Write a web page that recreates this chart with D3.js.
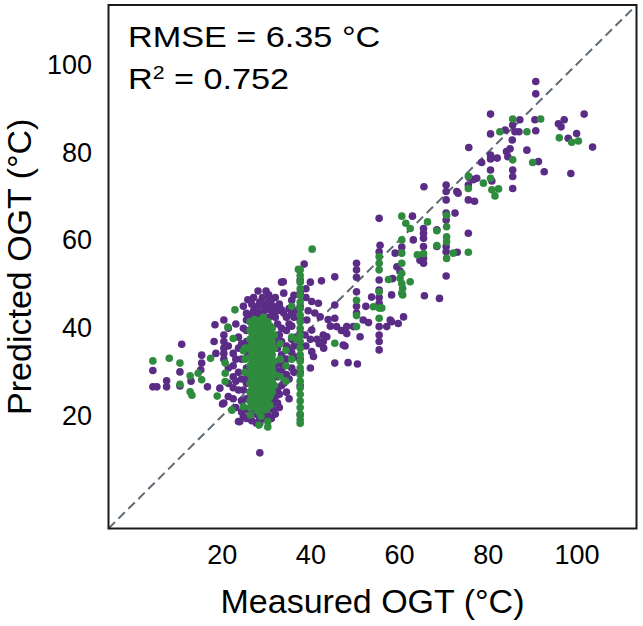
<!DOCTYPE html>
<html>
<head>
<meta charset="utf-8">
<script src="https://cdn.jsdelivr.net/npm/d3@7"></script>
<style>
  html, body { margin: 0; padding: 0; background: #fff; }
  svg { display: block; }
  text { font-family: "Liberation Sans", Arial, Helvetica, sans-serif; fill: #000; }
</style>
</head>
<body>
<svg id="chart" width="643" height="626"></svg>
<script>
// ---------------- data (measured OGT, predicted OGT) ----------------
const purplePoints = [
  [4.5,30.4],[4.5,26.7],[5.4,26.7],[7.6,28.1],[7.6,26.7],[10.6,30.1],[10.6,26.9],[11.0,36.4],
  [13.1,28.0],[15.5,33.9],[15.5,32.1],[15.3,30.6],[16.8,26.7],[18.3,37.0],[18.7,34.3],[18.5,40.8],
  [19.6,26.4],[20.5,41.9],[20.5,38.5],[20.5,37.0],[20.5,35.5],[20.5,34.3],[20.5,33.0],[20.5,23.0],
  [20.2,22.8],
  [21.5,40.0],[21.5,36.0],[21.5,31.0],[21.5,27.5],[21.5,24.5],
  [22.6,34.3],[22.6,31.5],[22.6,29.0],[22.6,26.5],[22.6,24.0],
  [23.2,41.0],[23.2,33.0],[23.2,28.0],[23.2,22.0],
  [23.8,38.0],[23.8,35.5],[23.8,30.0],[23.8,26.0],[23.8,18.8],[24.1,18.8],
  [24.5,36.5],[24.5,33.0],[24.5,28.5],[24.5,23.5],[24.5,21.0],
  [24.9,45.0],[24.9,40.0],[24.9,26.0],[24.9,20.0],
  [25.6,43.4],[25.6,41.9],[25.6,39.5],[25.6,37.0],[25.6,31.0],[25.6,27.5],[25.6,24.0],[25.6,19.5],
  [25.9,46.5],[25.9,34.0],[25.9,29.0],[25.9,21.5],
  [26.8,45.5],[26.8,43.0],[26.8,40.0],[26.8,21.5],[26.8,19.0],
  [27.2,47.0],[27.2,44.0],
  [27.8,44.5],[27.8,42.5],[27.8,20.5],[27.8,18.5],
  [28.2,48.5],[28.2,45.0],
  [28.6,46.0],[28.6,43.5],[28.6,19.5],[28.6,18.4],[28.6,11.7],
  [29.2,47.0],[29.2,45.5],[29.2,20.5],
  [29.6,44.0],[29.6,42.0],[29.6,21.0],[29.6,19.5],
  [30.0,48.5],[30.0,45.0],[30.0,21.0],
  [30.6,47.6],[30.6,46.1],[30.6,44.5],[30.6,42.5],[30.6,20.0],
  [31.2,46.5],[31.2,44.0],[31.2,22.5],[31.2,19.5],
  [31.6,45.0],[31.6,43.0],[31.6,23.5],[31.6,21.5],
  [32.1,47.0],[32.1,42.5],[32.1,37.0],[32.1,30.5],[32.1,24.5],[32.1,20.5],
  [32.6,44.0],[32.6,41.0],[32.6,38.5],[32.6,35.5],[32.6,32.0],[32.6,29.0],[32.6,26.0],[32.6,23.0],
  [33.0,45.5],[33.0,38.5],[33.0,32.5],[33.0,25.0],[33.0,22.0],
  [33.5,50.5],[33.5,44.2],[33.5,40.0],[33.5,37.0],[33.5,34.0],[33.5,30.5],[33.5,27.0],
  [34.0,48.0],[34.0,43.5],[34.0,31.5],[34.0,27.5],
  [34.6,42.5],[34.6,39.5],[34.6,36.0],[34.6,33.0],[34.6,29.5],[34.6,25.5],
  [35.2,44.5],[35.2,41.0],[35.2,35.0],[35.2,28.5],[35.2,24.0],
  [35.8,46.4],[35.8,43.4],[35.8,40.5],[35.8,37.5],[35.8,34.5],[35.8,31.0],
  [36.3,47.5],[36.3,42.5],[36.3,36.0],[36.3,30.0],
  [36.8,44.0],[36.8,38.0],[36.8,33.5],
  [37.7,51.0],[37.7,48.0],[37.7,45.0],[37.7,42.0],[37.7,39.0],[37.7,36.0],[37.7,33.0],[37.7,30.0],
  [37.7,27.0],[37.7,20.3],
  [39.0,49.0],[39.0,47.0],[40.0,50.5],[40.0,37.5],[40.0,31.0],
  [38.6,54.6],[40.3,46.1],[41.8,45.7],[39.2,41.9],[42.2,42.6],[40.3,39.6],[43.7,38.1],[40.7,33.6],
  [42.0,36.5],[44.5,40.5],[40.3,34.7],[41.5,37.5],[39.5,44.0],[43.0,35.5],[38.8,38.5],[39.0,36.0],
  [41.0,43.5],[44.0,42.0],[42.9,38.5],[42.9,37.0],[42.5,50.8],[45.5,51.7],[45.5,45.3],[45.5,42.3],
  [45.9,40.4],[47.4,36.2],[47.8,36.0],[48.2,40.4],[47.0,39.5],[48.2,38.8],[49.7,40.4],[45.5,32.1],
  [48.5,32.2],[50.6,31.9],[33.9,50.6],
  [50.4,54.8],[50.4,53.3],[50.4,51.6],[50.4,48.3],[50.4,45.0],[50.4,43.5],[52.5,45.0],[51.9,41.9],
  [51.2,38.1],[53.8,47.1],[53.1,41.3],[55.5,65.0],[55.7,58.9],[55.5,57.4],[55.5,51.0],[55.5,48.7],
  [55.5,47.0],[55.5,45.7],[55.5,40.4],[55.5,38.5],[55.5,37.0],[55.5,35.1],[57.2,40.4],[58.3,41.5],
  [59.8,41.1],[61.0,42.6],[58.3,47.6],[58.5,51.3],[59.5,54.0],[59.1,57.1],[60.5,57.2],[60.2,53.0],
  [60.6,58.5],[63.0,65.5],[63.2,60.1],[64.7,55.5],[65.5,62.7],[65.5,61.6],[65.5,60.5],[65.5,58.6],
  [65.5,55.9],[65.5,54.8],[65.7,47.4],[68.5,62.4],[68.5,58.6],[69.1,46.8],[65.6,72.2],[70.6,72.6],
  [70.6,71.1],[70.6,69.2],[70.6,66.2],[70.6,64.6],[70.6,58.6],[70.6,57.4],[70.6,51.9],[72.6,66.2],
  [73.0,71.1],[73.1,57.3],[75.6,72.6],[75.6,69.2],[75.6,61.6],[75.8,74.3],[76.7,73.8],[73.3,70.7],
  [58.0,41.9],[77.0,68.9],
  [90.8,96.1],[90.8,93.3],[80.6,88.7],[87.2,87.4],[90.6,87.4],[83.9,85.1],[85.6,86.2],[86.1,84.7],
  [87.0,84.7],[90.8,84.9],[95.9,86.5],[96.5,85.8],[97.2,87.4],[101.7,88.7],[100.0,84.3],[98.1,83.2],
  [103.6,81.2],[80.6,84.2],[85.5,82.8],[75.7,81.1],[80.6,79.4],[80.6,78.5],[82.1,78.7],[84.2,80.2],
  [85.0,80.8],[84.5,79.0],[88.8,80.5],[78.6,77.7],[91.4,77.9],[92.7,75.6],[98.7,75.2],[80.6,76.0],
  [85.6,76.0],[85.6,74.5],[85.6,71.8],[77.5,74.1],[80.9,73.5]
];

const greenPoints = [
  [4.5,32.6],[8.2,33.2],[10.6,32.1],[10.6,27.3],[12.9,29.2],[12.9,25.6],[13.3,24.8],[14.7,29.8],
  [15.5,28.3],[17.5,33.2],[19.0,24.6],[20.8,32.1],[20.8,29.8],[20.8,27.9],[21.4,40.3],[22.6,37.7],
  [22.3,21.4],[23.0,44.2],[24.9,22.2],[24.9,34.9],[26.5,20.3],[25.7,35.5],
  [25.3,35.5],[25.3,33.0],[25.3,30.0],
  [26.4,41.5],[26.4,39.5],[26.4,37.5],[26.4,35.5],[26.4,33.5],[26.4,31.5],[26.4,29.5],[26.4,27.5],
  [26.4,25.5],[26.4,23.5],[26.4,22.0],
  [26.9,40.5],[26.9,38.5],[26.9,36.5],[26.9,34.5],[26.9,32.5],[26.9,30.5],[26.9,28.5],[26.9,26.5],
  [26.9,24.5],[26.9,22.8],
  [27.4,42.0],[27.4,40.0],[27.4,38.0],[27.4,36.0],[27.4,34.0],[27.4,32.0],[27.4,30.0],[27.4,28.0],
  [27.4,26.0],[27.4,24.0],[27.4,22.5],
  [27.9,41.0],[27.9,39.0],[27.9,37.0],[27.9,35.0],[27.9,33.0],[27.9,31.0],[27.9,29.0],[27.9,27.0],
  [27.9,25.0],[27.9,23.0],[27.9,21.5],
  [28.4,41.0],[28.4,39.0],[28.4,37.0],[28.4,35.0],[28.4,33.0],[28.4,31.0],[28.4,29.0],[28.4,27.0],
  [28.4,25.0],[28.4,23.0],[28.4,21.0],[28.4,18.0],
  [28.9,42.0],[28.9,40.0],[28.9,38.0],[28.9,36.0],[28.9,34.0],[28.9,32.0],[28.9,30.0],[28.9,28.0],
  [28.9,26.0],[28.9,24.0],[28.9,22.0],[28.9,20.0],
  [29.4,42.5],[29.4,40.5],[29.4,38.5],[29.4,36.5],[29.4,34.5],[29.4,32.5],[29.4,30.5],[29.4,28.5],
  [29.4,26.5],[29.4,24.5],[29.4,22.5],
  [29.9,41.5],[29.9,39.5],[29.9,37.5],[29.9,35.5],[29.9,33.5],[29.9,31.5],[29.9,29.5],[29.9,27.5],
  [29.9,25.5],[29.9,23.5],[29.9,21.5],
  [30.4,41.5],[30.4,39.5],[30.4,37.5],[30.4,35.5],[30.4,33.5],[30.4,31.5],[30.4,29.5],[30.4,27.5],
  [30.4,25.5],[30.4,23.5],[30.4,18.8],[30.4,17.6],
  [30.9,40.5],[30.9,38.5],[30.9,36.5],[30.9,34.5],[30.9,32.5],[30.9,30.5],[30.9,28.5],[30.9,26.5],
  [30.9,24.5],[30.9,22.5],
  [31.4,40.0],[31.4,37.0],[31.4,34.0],[31.4,31.0],[31.4,28.0],[31.4,25.5],
  [31.9,38.5],[31.9,35.5],[31.9,32.5],[31.9,29.5],[31.9,27.0],
  [33.2,36.5],[33.2,33.0],[33.2,29.0],[34.5,35.0],[34.5,31.5],[34.5,28.0],
  [35.8,45.0],[35.8,38.0],[35.8,33.0],[37.0,37.5],
  [37.7,53.3],[37.7,52.0],[37.7,50.5],[37.7,49.0],[37.7,47.5],[37.7,46.0],[37.7,44.5],[37.7,43.0],
  [37.7,41.5],[37.7,40.0],[37.7,38.5],[37.7,37.0],[37.7,35.5],[37.7,34.0],[37.7,32.5],[37.7,31.0],
  [37.7,29.5],[37.7,28.0],[37.7,26.5],[37.7,25.0],[37.7,23.5],[37.7,22.0],[37.7,20.5],[37.7,19.2],
  [37.7,18.4],
  [40.4,58.0],[37.3,53.4],[45.5,36.6],[50.4,46.4],[50.4,42.9],[50.4,40.4],[54.2,44.9],[56.1,44.6],
  [55.5,42.3],[55.5,56.3],[55.5,54.8],[55.5,53.3],[55.5,48.3],[55.5,44.6],[57.6,51.1],[60.2,51.4],
  [62.5,50.6],[60.8,49.1],[60.8,47.6],[60.6,60.1],[60.6,57.1],[60.6,54.8],[60.6,52.5],[60.6,50.2],
  [60.6,48.0],[60.6,65.5],[61.5,63.9],[62.5,62.7],[66.4,64.2],[64.1,56.7],[65.5,57.0],[68.5,62.2],
  [68.5,58.8],[70.7,65.7],[70.7,63.1],[70.7,60.8],[70.7,59.7],[70.7,55.9],[72.2,57.1],[75.6,57.3],
  [75.6,74.6],[75.6,71.8],[79.0,73.0],[80.6,74.1],[80.9,71.5],[82.4,71.7],[81.6,70.1],[85.6,78.3],
  [90.1,77.7],[82.7,84.7],[85.6,87.6],[91.9,87.6],[88.8,84.7],[96.1,83.3],[98.9,82.3],[100.4,82.6]
];

const tickValues = [20, 40, 60, 80, 100];
const axisDomain = [-5.5, 113.5];
const xTitle = "Measured OGT (°C)";
const yTitle = "Predicted OGT (°C)";
const rmseLabel = "RMSE = 6.35 °C";
const r2Value = "0.752";

// ---------------- drawing ----------------
const svg = d3.select("#chart");
const L = 108.5, T = 5, R = 636.5, B = 528.5;

const x = d3.scaleLinear().domain(axisDomain).range([L, R]);
const y = d3.scaleLinear().domain(axisDomain).range([B, T]);

// identity line (behind points)
svg.append("line")
  .attr("x1", x(axisDomain[0])).attr("y1", y(axisDomain[0]))
  .attr("x2", x(axisDomain[1])).attr("y2", y(axisDomain[1]))
  .attr("stroke", "#5e6a74").attr("stroke-width", 2)
  .attr("stroke-dasharray", "9,5");

const r = 3.8;
svg.append("g").selectAll("circle").data(purplePoints).join("circle")
  .attr("cx", d => x(d[0])).attr("cy", d => y(d[1])).attr("r", r)
  .attr("fill", "#5b2c86");
svg.append("g").selectAll("circle").data(greenPoints).join("circle")
  .attr("cx", d => x(d[0])).attr("cy", d => y(d[1])).attr("r", r)
  .attr("fill", "#2f8b3d");

// frame
svg.append("rect")
  .attr("x", L).attr("y", T).attr("width", R - L).attr("height", B - T)
  .attr("fill", "none").attr("stroke", "#1a1a1a").attr("stroke-width", 2);

// axes
const xAxis = svg.append("g").attr("transform", `translate(0,${B})`)
  .call(d3.axisBottom(x).tickValues(tickValues).tickSize(0).tickPadding(16.5));
const yAxis = svg.append("g").attr("transform", `translate(${L},0)`)
  .call(d3.axisLeft(y).tickValues(tickValues).tickSize(0).tickPadding(16.5));
[xAxis, yAxis].forEach(g => {
  g.select(".domain").remove();
  g.selectAll("text").attr("font-size", 27).attr("fill", "#000")
    .attr("font-family", "'Liberation Sans', Arial, Helvetica, sans-serif");
});

// axis titles
svg.append("text")
  .attr("x", (L + R) / 2).attr("y", 613)
  .attr("text-anchor", "middle").attr("font-size", 34)
  .text(xTitle);
svg.append("text")
  .attr("transform", `translate(31,${(T + B) / 2}) rotate(-90)`)
  .attr("text-anchor", "middle").attr("font-size", 34)
  .text(yTitle);

// stats annotation
svg.append("text")
  .attr("transform", "translate(128,46.7) scale(1.18,1)")
  .attr("font-size", 29)
  .text(rmseLabel);
const r2 = svg.append("text")
  .attr("transform", "translate(128,89.3) scale(1.18,1)")
  .attr("font-size", 29);
r2.append("tspan").text("R");
r2.append("tspan").attr("font-size", 18).attr("dy", -10).text("2");
r2.append("tspan").attr("dy", 10).text(" = " + r2Value);
</script>
</body>
</html>
